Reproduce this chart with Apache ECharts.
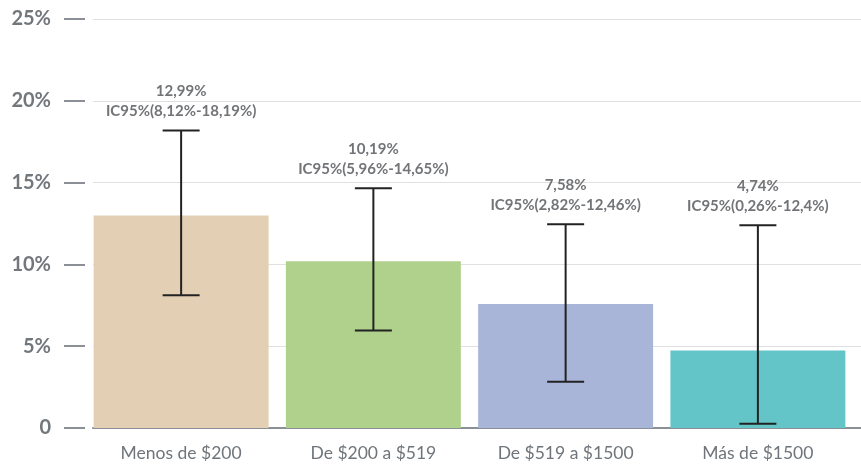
<!DOCTYPE html>
<html>
<head>
<meta charset="utf-8">
<script src="https://cdn.jsdelivr.net/npm/echarts@6/dist/echarts.min.js"></script>
<style>
  html, body { margin: 0; padding: 0; background: #fff; }
  #chart { width: 861px; height: 464px; }
</style>
</head>
<body>
<div id="chart"></div>
<script>
// datos
var categorias = ['Menos de $200', 'De $200 a $519', 'De $519 a $1500', 'Más de $1500'];
var porcentajes = [12.99, 10.19, 7.58, 4.74];
var icBajo = [8.12, 5.96, 2.82, 0.26];
var icAlto = [18.19, 14.65, 12.46, 12.4];
var colores = ['#e3cfb3', '#b0d18b', '#a8b5d8', '#63c5c8'];

function fmt(v) {
  return String(v).replace('.', ',') + '%';
}

var chart = echarts.init(document.getElementById('chart'));

var option = {
  animation: false,
  // grid 0: barras y etiquetas; grid 1: líneas de fondo y eje x
  grid: [
    { left: 85, right: 7, top: 19, bottom: 36 },
    { left: 93, right: 0, top: 19, bottom: 36 }
  ],
  xAxis: [
    {
      type: 'category',
      gridIndex: 0,
      data: categorias,
      axisLine: { show: false },
      axisTick: { show: false },
      axisLabel: { color: '#6f757a', fontSize: 17.5, fontFamily: 'Lato', margin: 16 }
    },
    {
      type: 'value',
      gridIndex: 1,
      min: 0, max: 1,
      axisLine: { show: true, onZero: false, lineStyle: { color: '#8a9096', width: 2 } },
      axisTick: { show: false },
      axisLabel: { show: false },
      splitLine: { show: false }
    }
  ],
  yAxis: [
    {
      type: 'value',
      gridIndex: 0,
      min: 0, max: 25, interval: 5,
      axisLine: { show: false },
      axisTick: { show: true, length: 21, lineStyle: { color: '#8a9096', width: 2 } },
      axisLabel: {
        color: '#72777b', fontSize: 20, fontWeight: 'bold', fontFamily: 'Lato', margin: 34,
        formatter: function (v) { return v === 0 ? '0' : v + '%'; }
      },
      splitLine: { show: false }
    },
    {
      type: 'value',
      gridIndex: 1,
      min: 0, max: 25, interval: 5,
      axisLine: { show: false },
      axisTick: { show: false },
      axisLabel: { show: false },
      splitLine: { lineStyle: { color: '#e0e0e0', width: 1 } }
    }
  ],
  series: [
    {
      type: 'bar',
      xAxisIndex: 0, yAxisIndex: 0,
      barCategoryGap: '9%',
      data: porcentajes.map(function (v, i) {
        return { value: v, itemStyle: { color: colores[i] } };
      }),
      z: 3
    },
    {
      type: 'custom',
      xAxisIndex: 0, yAxisIndex: 0,
      data: porcentajes.map(function (v, i) { return [i, icBajo[i], icAlto[i], v]; }),
      renderItem: function (params, api) {
        var i = api.value(0);
        var lo = api.coord([i, api.value(1)]);
        var hi = api.coord([i, api.value(2)]);
        var x = lo[0];
        var half = 18.5;
        var st = { stroke: '#222', lineWidth: 2 };
        return {
          type: 'group',
          children: [
            { type: 'line', shape: { x1: x, y1: lo[1], x2: x, y2: hi[1] }, style: st },
            { type: 'line', shape: { x1: x - half, y1: lo[1], x2: x + half, y2: lo[1] }, style: st },
            { type: 'line', shape: { x1: x - half, y1: hi[1], x2: x + half, y2: hi[1] }, style: st },
            {
              type: 'text',
              style: {
                x: x, y: hi[1] - 9,
                text: fmt(api.value(3)) + '\nIC95%(' + fmt(api.value(1)) + '-' + fmt(api.value(2)) + ')',
                align: 'center', verticalAlign: 'bottom',
                fill: '#727477', fontSize: 15, fontWeight: 'bold', fontFamily: 'Lato',
                lineHeight: 20
              }
            }
          ]
        };
      },
      z: 5
    }
  ]
};

chart.setOption(option);
</script>
</body>
</html>
